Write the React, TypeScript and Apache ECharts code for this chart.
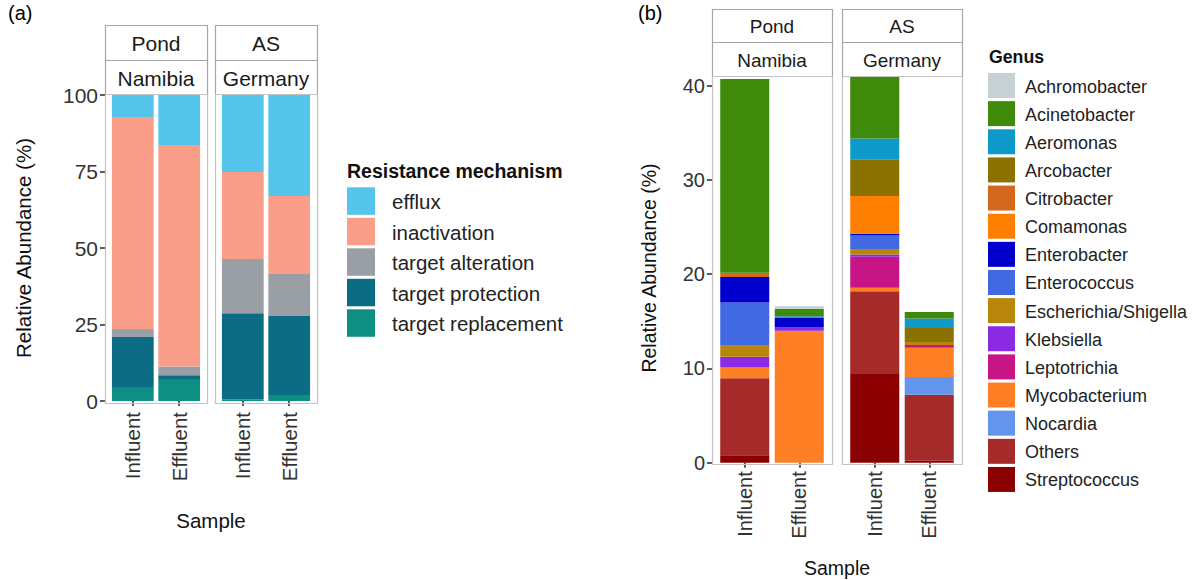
import React, { useEffect, useRef } from "react";
import * as echarts from "echarts";

// ---------- data ----------
const samples = ["Influent", "Effluent"];
const sites = ["Pond", "AS"];
const countries = ["Namibia", "Germany"];

// panel (a): values for [Pond Influent, Pond Effluent, AS Influent, AS Effluent]
const mechanisms = ["efflux", "inactivation", "target alteration", "target protection", "target replacement"];
const mechanismColors = ["#56C5EC", "#FA9E8A", "#9A9FA6", "#0B6C83", "#0E8F84"];
const efflux = [7.2, 16.3, 25.2, 33.0];
const inactivation = [69.3, 72.4, 28.4, 25.5];
const targetAlteration = [2.6, 2.9, 17.7, 13.7];
const targetProtection = [16.3, 1.2, 28.2, 25.8];
const targetReplacement = [4.6, 7.2, 0.5, 2.0];
const mechanismValues = [efflux, inactivation, targetAlteration, targetProtection, targetReplacement];

// panel (b)
const genera = [
  "Achromobacter", "Acinetobacter", "Aeromonas", "Arcobacter", "Citrobacter",
  "Comamonas", "Enterobacter", "Enterococcus", "Escherichia/Shigella", "Klebsiella",
  "Leptotrichia", "Mycobacterium", "Nocardia", "Others", "Streptococcus",
];
const genusColors = [
  "#C5D1D2", "#3F8A0B", "#0D9AC9", "#8B7100", "#D2691E",
  "#FF7F00", "#0000CD", "#4169E1", "#B8860B", "#8A2BE2",
  "#C71585", "#FF7F24", "#6495ED", "#A52A2A", "#8B0000",
];
const achromobacter = [0, 0.3, 0, 0];
const acinetobacter = [20.55, 0.75, 6.6, 0.7];
const aeromonas = [0, 0.15, 2.2, 1.0];
const arcobacter = [0, 0, 3.9, 1.5];
const citrobacter = [0.45, 0, 0, 0];
const comamonas = [0, 0, 4.0, 0];
const enterobacter = [2.7, 1.05, 0.2, 0];
const enterococcus = [4.6, 0, 1.5, 0];
const escherichiaShigella = [1.15, 0, 0.5, 0.3];
const klebsiella = [1.15, 0.35, 0.25, 0];
const leptotrichia = [0, 0, 3.3, 0.3];
const mycobacterium = [1.15, 14.0, 0.35, 3.1];
const nocardia = [0, 0, 0, 1.9];
const others = [8.15, 0, 8.8, 7.0];
const streptococcus = [0.8, 0, 9.4, 0.2];
const genusValues = [
  achromobacter, acinetobacter, aeromonas, arcobacter, citrobacter,
  comamonas, enterobacter, enterococcus, escherichiaShigella, klebsiella,
  leptotrichia, mycobacterium, nocardia, others, streptococcus,
];

const ff = "'Liberation Sans', Arial, Helvetica, sans-serif";
const tickColor = "#333333";

// ---------- layout ----------
const gridsDef = [
  { left: 109.6, width: 92.8, top: 95, height: 306, panelX: 105, panelW: 102, panelY: 94, panelH: 309 },
  { left: 219.6, width: 92.8, top: 95, height: 306, panelX: 215, panelW: 102, panelY: 94, panelH: 309 },
  { left: 717.5, width: 109, top: 85.7, height: 377, panelX: 712, panelW: 120, panelY: 76, panelH: 388 },
  { left: 847.5, width: 109, top: 85.7, height: 377, panelX: 842, panelW: 120, panelY: 76, panelH: 388 },
];

function buildSeries(names: string[], colors: string[], values: number[][], base: number) {
  const out: any[] = [];
  for (let i = names.length - 1; i >= 0; i--) {
    for (let p = 0; p < 2; p++) {
      out.push({
        name: names[i],
        type: "bar",
        xAxisIndex: base + p,
        yAxisIndex: base + p,
        stack: "s" + (base + p),
        data: values[i].slice(p * 2, p * 2 + 2),
        itemStyle: { color: colors[i] },
        barWidth: "90%",
        clip: false,
        silent: true,
      });
    }
  }
  return out;
}

function txt(text: string, x: number, y: number, fontSize: number, opts: any = {}) {
  return {
    type: "text",
    x,
    y,
    rotation: opts.rotation || 0,
    silent: true,
    style: {
      text,
      fill: opts.fill || "#1a1a1a",
      fontSize,
      fontFamily: ff,
      fontWeight: opts.bold ? "bold" : "normal",
      textAlign: opts.align || "left",
      textVerticalAlign: "middle",
    },
  };
}

function buildGraphics() {
  const g: any[] = [];
  g.push(txt("(a)", 8, 13, 20, { fill: "#000" }));
  g.push(txt("(b)", 638, 13, 20, { fill: "#000" }));

  // strips and panel borders
  const stripA = [{ y: 25, h: 35 }, { y: 60, h: 34 }];
  const stripB = [{ y: 9, h: 33 }, { y: 42, h: 34 }];
  gridsDef.forEach((gd, idx) => {
    const strips = idx < 2 ? stripA : stripB;
    const fs = idx < 2 ? 21 : 19;
    const site = idx % 2;
    g.push({
      type: "rect",
      silent: true,
      shape: { x: gd.panelX + 0.5, y: gd.panelY + 0.5, width: gd.panelW, height: gd.panelH },
      style: { fill: "none", stroke: "#C4C4C4", lineWidth: 1.2 },
      z: 10,
    });
    strips.forEach((s, k) => {
      g.push({
        type: "rect",
        silent: true,
        shape: { x: gd.panelX + 0.5, y: s.y + 0.5, width: gd.panelW, height: s.h },
        style: { fill: "#FFFFFF", stroke: "#A6A6A6", lineWidth: 1.2 },
      });
      g.push(txt(k === 0 ? sites[site] : countries[site], gd.panelX + gd.panelW / 2, s.y + s.h / 2 + 1, fs, { align: "center" }));
    });
  });

  // axis titles
  g.push(txt("Relative Abundance (%)", 23, 248, 20.5, { rotation: Math.PI / 2, align: "center", fill: "#111" }));
  g.push(txt("Relative Abundance (%)", 649, 268, 19.5, { rotation: Math.PI / 2, align: "center", fill: "#111" }));
  g.push(txt("Sample", 211, 520, 20.5, { align: "center", fill: "#111" }));
  g.push(txt("Sample", 837, 568, 19.5, { align: "center", fill: "#111" }));

  // legend (a)
  g.push(txt("Resistance mechanism", 347, 171, 19.5, { bold: true, fill: "#111" }));
  mechanisms.forEach((m, i) => {
    const y = 187.3 + 30.5 * i;
    g.push({ type: "rect", silent: true, shape: { x: 347, y, width: 28, height: 27.5 }, style: { fill: mechanismColors[i] } });
    g.push(txt(m, 392, y + 14.5, 20.5, { fill: "#222" }));
  });

  // legend (b)
  g.push(txt("Genus", 989, 57, 17.7, { bold: true, fill: "#111" }));
  genera.forEach((n, i) => {
    const y = 73 + 28.14 * i;
    g.push({ type: "rect", silent: true, shape: { x: 988, y, width: 27, height: 25 }, style: { fill: genusColors[i] } });
    g.push(txt(n, 1025, y + 13.5, 18, { fill: "#222" }));
  });
  return g;
}

export default function App() {
  const ref = useRef<HTMLDivElement>(null);
  useEffect(() => {
    if (!ref.current) return;
    const chart = echarts.init(ref.current, null, { renderer: "svg" });
    const xAxis = gridsDef.map((_, idx) => ({
      gridIndex: idx,
      type: "category",
      data: samples,
      position: "bottom",
      offset: idx < 2 ? 2 : 1.5,
      axisLine: { show: false },
      axisTick: { show: true, alignWithLabel: true, length: 5, lineStyle: { color: tickColor, width: 1.6 } },
      axisLabel: {
        rotate: 90,
        margin: idx < 2 ? 9 : 7,
        fontSize: idx < 2 ? 20.5 : 20,
        color: tickColor,
        fontFamily: ff,
      },
      splitLine: { show: false },
    }));
    const yAxis = gridsDef.map((_, idx) => {
      const isA = idx < 2;
      const first = idx % 2 === 0;
      return {
        gridIndex: idx,
        type: "value",
        min: 0,
        max: isA ? 100 : 40,
        interval: isA ? 25 : 10,
        show: first,
        offset: isA ? 4.6 : 5.5,
        axisLine: { show: false },
        axisTick: { show: true, length: 5, lineStyle: { color: tickColor, width: 1.6 } },
        axisLabel: { fontSize: isA ? 21 : 20, color: tickColor, fontFamily: ff, margin: isA ? 7 : 7 },
        splitLine: { show: false },
      };
    });
    const option: any = {
      animation: false,
      backgroundColor: "#FFFFFF",
      grid: gridsDef.map((gd) => ({ left: gd.left, width: gd.width, top: gd.top, height: gd.height, containLabel: false })),
      xAxis,
      yAxis,
      series: [
        ...buildSeries(mechanisms, mechanismColors, mechanismValues, 0),
        ...buildSeries(genera, genusColors, genusValues, 2),
      ],
      graphic: buildGraphics(),
    };
    chart.setOption(option);
    return () => chart.dispose();
  }, []);
  return <div ref={ref} style={{ position: "absolute", left: 0, top: 0, width: 1199, height: 580 }} />;
}
